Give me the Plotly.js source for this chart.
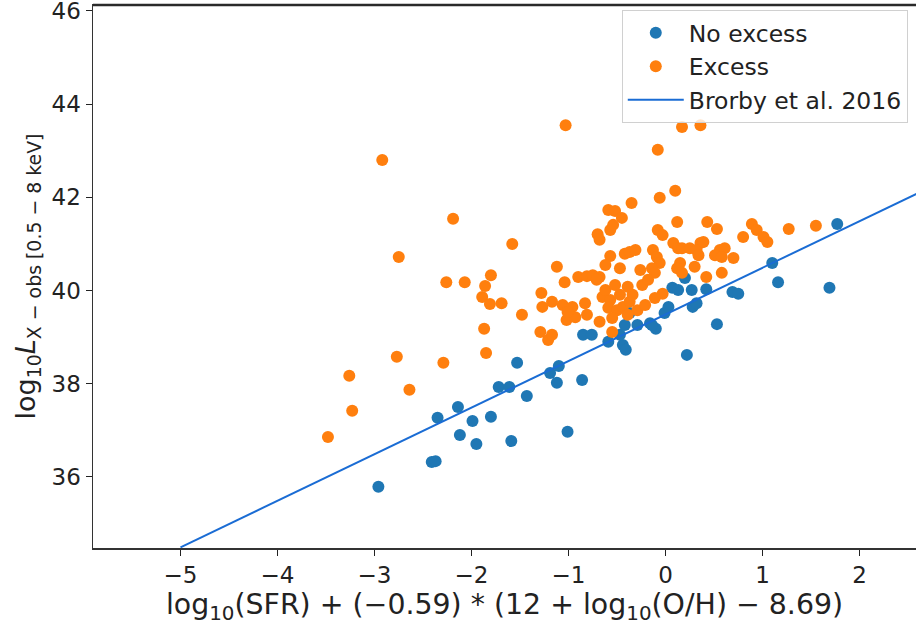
<!DOCTYPE html>
<html>
<head>
<meta charset="utf-8">
<script src="https://cdn.plot.ly/plotly-3.0.1.min.js"></script>
<style>
html,body{margin:0;padding:0;background:#fff;overflow:hidden;}
#chart{width:916px;height:626px;}
</style>
</head>
<body>
<div id="chart"></div>
<script>
// No excess (blue)
const blueX = [-2.96,-2.41,-2.37,-2.35,-2.14,-2.12,-1.99,-1.95,-1.80,-1.72,-1.61,-1.59,-1.53,-1.43,-1.19,-1.12,-1.01,-0.86,-1.10,-0.85,-0.76,-0.59,-0.47,-0.42,-0.37,-0.29,-0.44,-0.41,-0.16,-0.10,-0.01,0.03,0.07,0.13,0.27,0.42,0.28,0.32,0.53,0.69,0.75,1.10,1.16,1.69,1.77,0.22,0.20,-0.14];
const blueY = [35.79,36.32,36.34,37.27,37.50,36.90,37.20,36.71,37.29,37.93,37.93,36.77,38.45,37.74,38.23,38.02,36.97,38.08,38.38,39.05,39.05,38.90,39.05,39.26,39.52,39.26,38.83,38.73,39.30,39.18,39.52,39.65,40.06,40.01,40.01,40.03,39.65,39.73,39.28,39.97,39.93,40.59,40.18,40.06,41.43,38.62,40.27,39.26];

// Excess (orange)
const orangeX = [-3.48,-3.26,-3.23,-2.92,-2.75,-2.77,-2.64,-2.29,-2.26,-2.19,-2.07,-1.80,-1.86,-1.89,-1.81,-1.69,-1.87,-1.85,-1.58,-1.48,
 -1.29,-1.21,-1.17,-1.28,-1.27,-1.17,-1.12,-1.03,-1.06,-0.96,-1.04,-1.02,-0.93,-0.83,-0.81,-0.90,-0.81,-0.75,-0.68,-0.70,
 -0.68,-0.59,-0.52,-0.45,-0.57,-0.54,-0.35,-0.06,0.10,-0.08,-0.57,-0.42,-0.37,-0.31,-0.68,-0.55,-0.08,-0.03,0.12,0.43,
 0.53,0.08,0.13,0.17,0.36,0.25,0.32,0.34,0.56,0.61,0.51,0.58,0.70,0.80,0.89,0.94,1.01,1.05,1.27,1.55,
 0.30,0.15,0.12,0.17,0.42,0.58,-0.03,0.17,0.36,0.39,-0.13,-0.09,-0.06,-0.14,-0.11,-0.71,-0.65,-0.57,-0.59,-0.50,
 -0.44,-0.37,-0.29,-0.34,-0.39,-0.24,-0.18,-0.62,-0.52,-0.47,-0.21,-0.11,-0.26,-0.47,-0.62,-0.39,-0.55,-1.01];
const orangeY = [36.86,38.17,37.42,42.80,40.72,38.58,37.87,38.45,40.18,41.54,40.18,40.33,40.10,39.86,39.71,39.73,39.18,38.66,41.00,39.48,
 39.11,38.94,39.05,39.95,39.65,39.76,40.51,43.55,39.69,39.65,40.18,39.37,39.43,39.73,39.48,40.29,40.31,40.33,40.29,41.21,
 41.09,41.73,41.71,41.56,41.30,41.41,41.88,41.99,42.14,43.02,40.74,40.79,40.83,40.87,39.33,39.11,41.30,41.19,41.47,41.47,
 41.32,41.02,40.91,40.91,41.02,40.91,40.87,40.76,40.87,40.91,40.76,40.72,40.70,41.15,41.43,41.30,41.15,41.04,41.32,41.39,
 40.51,40.59,40.48,40.38,40.29,40.38,39.93,43.51,43.55,41.04,40.87,40.72,40.59,40.48,40.38,40.23,39.86,39.80,39.63,39.58,
 39.65,39.76,39.58,39.91,40.08,40.12,40.23,40.01,40.12,39.91,39.69,39.84,40.44,40.48,40.55,39.48,39.41,39.54];

// Brorby et al. 2016 relation
const brorbyX = [-5, 3];
const brorbyY = [34.49, 42.49];

const seriesNames = ["No excess", "Excess", "Brorby et al. 2016"];
const xTicks = [-5, -4, -3, -2, -1, 0, 1, 2];
const yTicks = [36, 38, 40, 42, 44, 46];

const FONT = "DejaVu Sans, Verdana, sans-serif";

const traces = [
  {x: blueX, y: blueY, name: seriesNames[0], type: "scatter", mode: "markers", legendgroup: "a",
   marker: {color: "#1f77b4", size: 12, line: {width: 0}}},
  {x: orangeX, y: orangeY, name: seriesNames[1], type: "scatter", mode: "markers", legendgroup: "b",
   marker: {color: "#ff7f0e", size: 12, line: {width: 0}}},
  {x: brorbyX, y: brorbyY, name: seriesNames[2], type: "scatter", mode: "lines", legendgroup: "c",
   line: {color: "#1a6cd4", width: 2}}
];

const layout = {
  width: 916, height: 626,
  margin: {l: 93, r: 0, t: 5, b: 78},
  paper_bgcolor: "#fff", plot_bgcolor: "#fff",
  font: {family: FONT, size: 22, color: "#222"},
  showlegend: true,
  legend: {
    x: 0.990, xanchor: "right", y: 0.991, yanchor: "top",
    bgcolor: "rgba(255,255,255,0.8)", bordercolor: "#d0d0d0", borderwidth: 1,
    font: {family: FONT, size: 23.5, color: "#222"},
    tracegroupgap: 0, traceorder: "grouped", itemwidth: 56
  },
  xaxis: {
    range: [-5.902, 2.582], tickvals: xTicks, ticktext: xTicks.map(v => v < 0 ? "\u2212" + Math.abs(v) : String(v)),
    showgrid: false, zeroline: false, showline: true, mirror: true, linecolor: "#333", linewidth: 1.5,
    ticks: "outside", ticklen: 6, tickcolor: "#222", tickwidth: 1, ticklabeloverflow: "allow",
    tickfont: {family: FONT, size: 23, color: "#222"},
    title: {text: "log<sub>10</sub>(SFR) + (\u22120.59) * (12 + log<sub>10</sub>(O/H) \u2212 8.69)",
            font: {family: FONT, size: 28.4, color: "#222"}, standoff: 6}
  },
  yaxis: {
    range: [34.476, 46.128], tickvals: yTicks, ticktext: yTicks.map(String),
    showgrid: false, zeroline: false, showline: true, mirror: false, linecolor: "#333", linewidth: 1.5,
    ticks: "outside", ticklen: 6, tickcolor: "#222", tickwidth: 1, ticklabeloverflow: "allow",
    tickfont: {family: FONT, size: 23, color: "#222"},
    title: {text: "log<sub>10</sub><i>L</i><sub>X \u2212 obs [0.5 \u2212 8 keV]</sub>",
            font: {family: FONT, size: 27, color: "#222"}, standoff: 8}
  },
  shapes: [
    {type: "line", xref: "paper", yref: "paper", x0: 0, x1: 1, y0: 1, y1: 1, layer: "above",
     line: {color: "#2a2a2a", width: 2.5}}
  ]
};

Plotly.newPlot("chart", traces, layout, {displayModeBar: false, staticPlot: true});
</script>
</body>
</html>
